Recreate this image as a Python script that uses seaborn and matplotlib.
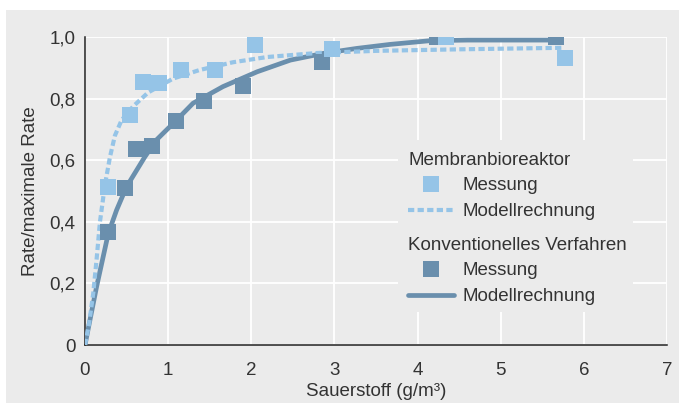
import matplotlib
matplotlib.use("Agg")
import matplotlib.pyplot as plt
from matplotlib.patches import Rectangle
from matplotlib.lines import Line2D
import seaborn as sns
import pandas as pd

# --- data ---
mbr_x = [0.28, 0.54, 0.70, 0.89, 1.16, 1.56, 2.04, 2.97, 4.34, 5.77]
mbr_y = [0.514, 0.747, 0.853, 0.850, 0.893, 0.893, 0.974, 0.960, 1.0, 0.931]
konv_x = [0.28, 0.48, 0.61, 0.81, 1.10, 1.43, 1.90, 2.85, 4.23, 5.67]
konv_y = [0.366, 0.511, 0.636, 0.647, 0.728, 0.793, 0.841, 0.920, 1.0, 1.0]

mbr_model_x = [0, 0.05, 0.10, 0.14, 0.18, 0.24, 0.30, 0.36, 0.44, 0.58, 0.76,
               1.06, 1.38, 1.78, 2.19, 2.79, 3.5, 4.5, 5.76]
mbr_model_y = [0, 0.07, 0.17, 0.28, 0.40, 0.52, 0.61, 0.68, 0.73, 0.775, 0.82,
               0.865, 0.893, 0.918, 0.935, 0.948, 0.955, 0.96, 0.965]
konv_model_x = [0, 0.14, 0.28, 0.38, 0.50, 0.72, 0.86, 1.10, 1.30, 1.66, 2.07,
                2.47, 2.87, 3.27, 3.67, 4.15, 4.6, 5.68]
konv_model_y = [0, 0.19, 0.362, 0.438, 0.514, 0.611, 0.666, 0.73, 0.785, 0.839,
                0.887, 0.925, 0.947, 0.963, 0.976, 0.988, 0.99, 0.99]

x_ticks = [0, 1, 2, 3, 4, 5, 6, 7]
y_ticks = [0, 0.2, 0.4, 0.6, 0.8, 1.0]
y_tick_labels = ["0", "0,2", "0,4", "0,6", "0,8", "1,0"]

group_titles = ["Membranbioreaktor", "Konventionelles Verfahren"]
entry_labels = ["Messung", "Modellrechnung"]
x_label = "Sauerstoff (g/m\u00b3)"
y_label = "Rate/maximale Rate"

# --- styling ---
BG = "#ebebeb"
LIGHT = "#95c4e7"
DARK = "#6a8fad"
TXT = "#333333"
FS = 13.5

sns.set_style("white")
plt.rcParams["font.family"] = ["Liberation Sans", "DejaVu Sans"]
plt.rcParams["text.color"] = TXT

W, H = 679, 403
fig = plt.figure(figsize=(W / 100, H / 100), dpi=100, facecolor="white")
fig.patches.append(Rectangle((6 / W, 0), 1 - 6 / W, 1 - 10 / H, transform=fig.transFigure,
                             facecolor=BG, edgecolor="none", zorder=-10))
ax = fig.add_axes([85 / W, 1 - 345 / H, (667 - 85) / W, (345 - 37) / H])
ax.set_facecolor(BG)

df_mbr_model = pd.DataFrame({"x": mbr_model_x, "y": mbr_model_y})
df_konv_model = pd.DataFrame({"x": konv_model_x, "y": konv_model_y})
df_mbr = pd.DataFrame({"x": mbr_x, "y": mbr_y})
df_konv = pd.DataFrame({"x": konv_x, "y": konv_y})

sns.lineplot(data=df_konv_model, x="x", y="y", ax=ax, color=DARK, lw=3.4,
             sort=False, estimator=None, zorder=3, legend=False)
sns.lineplot(data=df_mbr_model, x="x", y="y", ax=ax, color=LIGHT, lw=3.0,
             sort=False, estimator=None, zorder=3, legend=False, dashes=False)
ax.lines[-1].set_dashes((1.5, 0.8))
sns.scatterplot(data=df_konv, x="x", y="y", ax=ax, color=DARK, marker="s", s=125,
                linewidth=0, zorder=4, legend=False)
sns.scatterplot(data=df_mbr, x="x", y="y", ax=ax, color=LIGHT, marker="s", s=125,
                linewidth=0, zorder=5, legend=False)

ax.set_xlim(0, 7)
ax.set_ylim(0, 1.0)
ax.set_xticks(x_ticks)
ax.set_xticklabels([str(t) for t in x_ticks])
ax.set_yticks(y_ticks)
ax.set_yticklabels(y_tick_labels)
ax.grid(True, color="white", lw=1.3)
ax.set_axisbelow(True)
for s in ["top", "right"]:
    ax.spines[s].set_visible(False)
for s in ["left", "bottom"]:
    ax.spines[s].set_color("#222222")
    ax.spines[s].set_linewidth(1.1)
ax.tick_params(axis="both", length=0, labelsize=FS, colors=TXT)
ax.tick_params(axis="y", pad=7)
ax.tick_params(axis="x", pad=12)
ax.set_xlabel(x_label, fontsize=FS, color=TXT, labelpad=3)
ax.set_ylabel(y_label, fontsize=FS, color=TXT, labelpad=7)

# gray block behind the legend, covering the grid
ax.add_patch(Rectangle((3.76, 0.107), 2.83, 0.559, facecolor=BG, edgecolor="none", zorder=1))

def make_handles(color, dashed):
    m = Line2D([], [], color=color, marker="s", markersize=11, linestyle="none", markeredgewidth=0)
    l = Line2D([], [], color=color, lw=3.0 if dashed else 3.4)
    if dashed:
        l.set_dashes((1.5, 0.8))
    return [m, l]

leg_kw = dict(frameon=False, fontsize=FS, title_fontsize=FS, alignment="left",
              handlelength=2.45, handletextpad=0.45, labelspacing=0.46, borderpad=0,
              borderaxespad=0, loc="upper left")
leg1 = ax.legend(make_handles(LIGHT, True), entry_labels, title=group_titles[0],
                 bbox_to_anchor=((408 - 85) / 582, (345 - 152) / 308), **leg_kw)
ax.add_artist(leg1)
leg2 = ax.legend(make_handles(DARK, False), entry_labels, title=group_titles[1],
                 bbox_to_anchor=((408 - 85) / 582, (345 - 237) / 308), **leg_kw)
for lg in (leg1, leg2):
    lg.get_title().set_color(TXT)
    lg._legend_box.sep = 6
    for t in lg.get_texts():
        t.set_color(TXT)

fig.savefig("out.png", dpi=100, facecolor="white")
